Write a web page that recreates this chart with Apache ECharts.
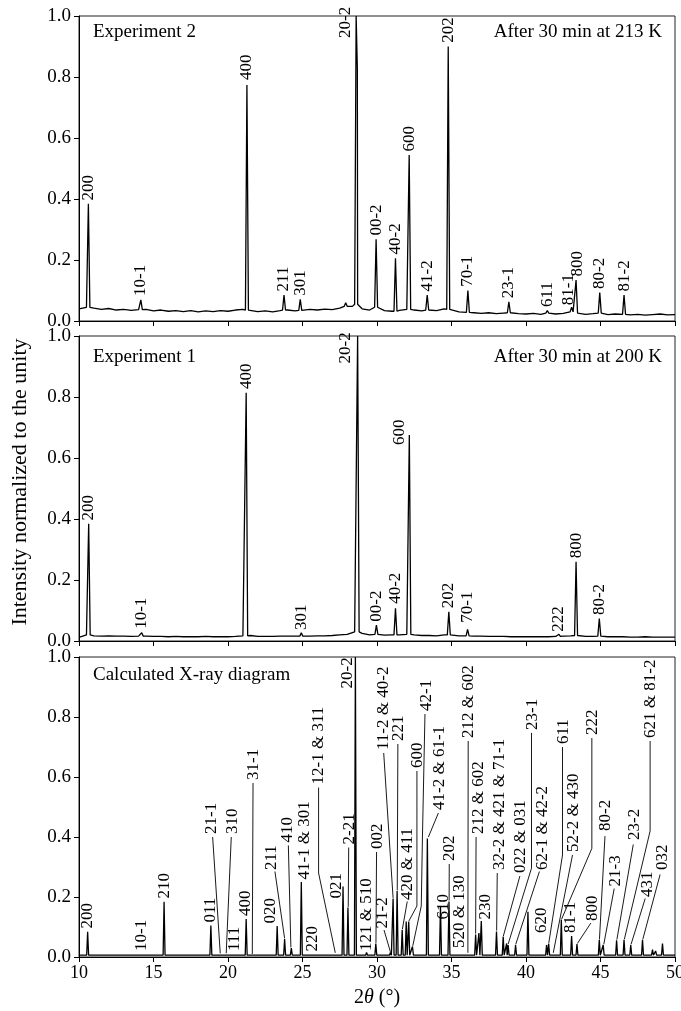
<!DOCTYPE html>
<html><head><meta charset="utf-8">
<script src="https://cdn.jsdelivr.net/npm/echarts@6/dist/echarts.min.js"></script>
<style>html,body{margin:0;padding:0;background:#fff}#c{width:681px;height:1011px}</style>
</head><body><div id="c"></div>
<script>
// ---------- DATA ----------
const xTicks = [10, 15, 20, 25, 30, 35, 40, 45, 50];
const yTicks = [0.0, 0.2, 0.4, 0.6, 0.8, 1.0];

// baseline samples (2θ) for the two experimental patterns
const baseX = [10,10.5,11,11.5,12,12.5,13,13.5,14,14.5,15,15.5,16,16.5,17,17.5,18,18.5,19,19.5,20,20.5,21,21.5,22,22.5,23,23.5,24,24.5,25,25.5,26,26.5,27,27.5,28,28.5,29,29.5,30,30.5,31,31.5,32,32.5,33,33.5,34,34.5,35,35.5,36,36.5,37,37.5,38,38.5,39,39.5,40,40.5,41,41.5,42,42.5,43,43.5,44,44.5,45,45.5,46,46.5,47,47.5,48,48.5,49,49.5,50];
const exp2Base = [.040,.045,.042,.038,.041,.036,.038,.035,.037,.038,.033,.036,.032,.034,.031,.034,.030,.033,.031,.034,.032,.036,.038,.036,.031,.033,.030,.034,.036,.033,.035,.038,.036,.039,.037,.042,.048,.055,.040,.036,.045,.034,.032,.035,.038,.036,.033,.036,.034,.040,.038,.030,.028,.027,.025,.027,.024,.026,.027,.024,.023,.025,.022,.026,.023,.025,.030,.026,.022,.024,.026,.021,.023,.022,.020,.022,.019,.021,.023,.020,.021];
const exp1Base = [.012,.020,.017,.016,.017,.016,.016,.015,.016,.016,.015,.015,.014,.015,.014,.014,.014,.015,.014,.014,.014,.015,.017,.018,.015,.015,.015,.016,.016,.016,.016,.016,.017,.017,.018,.020,.022,.030,.025,.020,.022,.019,.020,.020,.022,.020,.018,.018,.017,.020,.020,.017,.017,.016,.016,.015,.015,.015,.014,.014,.014,.014,.014,.014,.015,.016,.017,.018,.015,.015,.016,.014,.014,.014,.013,.013,.014,.013,.013,.013,.013];
const calcBaseX = [10, 50];
const calcBase = [0.006, 0.006];

// Experiment 2 (after 30 min at 213 K)
const exp2Pos = [10.63,14.15,21.27,23.76,24.85,27.9,28.25,28.6,28.68,29.94,31.24,32.16,33.37,34.78,36.1,38.85,41.43,43.06,43.36,44.95,46.58];
const exp2H   = [0.384,0.069,0.774,0.085,0.071,0.06,0.05,1.0,0.83,0.268,0.206,0.544,0.085,0.90,0.10,0.063,0.034,0.045,0.134,0.093,0.085];
const exp2LabelText = ["200","10-1","400","211","301","20-2","00-2","40-2","600","41-2","202","70-1","23-1","611","81-1","800","80-2","81-2"];
const exp2LabelX    = [10.63,14.15,21.27,23.76,24.85,27.88,29.94,31.24,32.16,33.37,34.78,36.1,38.85,41.43,42.88,43.49,44.95,46.58];
const exp2LabelY    = [0.395,0.082,0.79,0.097,0.083,0.928,0.28,0.218,0.556,0.097,0.912,0.112,0.075,0.046,0.052,0.146,0.105,0.097];

// Experiment 1 (after 30 min at 200 K)
const exp1Pos = [10.65,14.21,21.22,24.92,28.7,29.96,31.24,32.17,34.82,36.08,42.21,43.36,44.92];
const exp1H   = [0.384,0.027,0.814,0.027,1.0,0.052,0.107,0.675,0.096,0.038,0.022,0.26,0.074];
const exp1LabelText = ["200","10-1","400","301","20-2","00-2","40-2","600","202","70-1","222","800","80-2"];
const exp1LabelX    = [10.65,14.21,21.22,24.92,27.9,29.96,31.24,31.48,34.82,36.08,42.21,43.36,44.92];
const exp1LabelY    = [0.395,0.04,0.826,0.036,0.91,0.063,0.122,0.643,0.107,0.06,0.03,0.271,0.085];

// Calculated X-ray diagram
const calcPos = [10.58,12.8,14.21,15.71,18.85,19.3,19.48,19.88,20.72,21.22,21.62,23.3,23.8,24.25,24.92,25.6,27.2,27.72,28.05,28.55,28.88,29.3,29.92,30.9,31.08,31.35,31.69,31.96,32.13,32.38,33.38,34.26,34.83,35.5,36.1,36.62,36.84,37.0,38.02,38.47,38.7,38.8,39.3,40.13,41.38,41.52,41.83,42.37,43.06,43.42,44.92,45.18,46.08,46.58,47.03,47.82,48.49,48.7,49.16];
const calcH   = [0.084,0.004,0.008,0.184,0.105,0.012,0.01,0.01,0.008,0.127,0.008,0.103,0.06,0.03,0.25,0.005,0.012,0.235,0.165,1.0,0.01,0.015,0.045,0.015,0.195,0.22,0.09,0.118,0.118,0.035,0.395,0.17,0.185,0.01,0.012,0.075,0.08,0.12,0.085,0.068,0.045,0.04,0.04,0.151,0.04,0.045,0.012,0.123,0.07,0.043,0.057,0.04,0.056,0.057,0.04,0.057,0.025,0.02,0.045];
const calcLabelText = ["200","10-1","210","011","21-1","310","111","400","31-1","020","211","410","41-1 & 301","220","12-1 & 311","021","2-21","20-2","121 & 510","002","21-2","11-2 & 40-2","221","420 & 411","600","42-1","41-2 & 61-1","610","202","520 & 130","212 & 602","212 & 602","230","32-2 & 421 & 71-1","022 & 031","23-1","62-1 & 42-2","620","611","52-2 & 430","222","81-1","800","80-2","21-3","23-2","621 & 81-2","431","032"];
const calcLabelX = [10.58,14.21,15.71,18.85,18.9,20.3,20.45,21.2,21.72,22.85,22.95,24.02,25.15,25.64,26.1,27.3,28.15,28.05,29.3,30.05,30.4,30.45,31.42,32.08,32.7,33.3,34.2,34.45,34.87,35.55,36.15,36.84,37.29,38.2,39.64,40.42,41.1,41.05,42.55,43.22,44.45,43.02,44.45,45.35,46.02,47.26,48.37,48.15,49.16];
const calcLabelY = [0.095,0.02,0.195,0.115,0.41,0.41,0.02,0.137,0.59,0.112,0.29,0.382,0.258,0.018,0.575,0.195,0.375,0.895,0.02,0.36,0.095,0.69,0.72,0.19,0.63,0.82,0.49,0.125,0.32,0.03,0.73,0.41,0.125,0.29,0.28,0.757,0.29,0.08,0.71,0.35,0.74,0.08,0.12,0.42,0.235,0.39,0.73,0.2,0.29];
// leader lines (2θ, intensity) from label to its reflection; null = none
const calcLeaders = [null,null,null,null,
  [[18.97,0.40],[19.48,0.012]],
  [[20.22,0.40],[19.88,0.012]],
  null,null,
  [[21.68,0.58],[21.63,0.01]],
  null,
  [[23.15,0.285],[23.8,0.062]],
  [[24.05,0.372],[24.22,0.032]],
  null,null,
  [[26.08,0.565],[26.08,0.28],[27.2,0.014]],
  null,
  [[28.1,0.365],[28.07,0.167]],
  null,null,
  [[29.97,0.35],[29.93,0.047]],
  [[30.47,0.09],[30.9,0.017]],
  [[30.45,0.68],[31.08,0.197]],
  [[31.4,0.71],[31.36,0.222]],
  [[32.03,0.185],[31.7,0.092]],
  [[32.68,0.62],[32.68,0.17],[32.14,0.12]],
  [[33.22,0.81],[33.05,0.4],[32.97,0.17],[32.4,0.037]],
  [[34.12,0.48],[33.45,0.4]],
  null,
  [[34.85,0.31],[34.84,0.188]],
  null,
  [[36.12,0.72],[36.1,0.014]],
  [[36.65,0.40],[36.62,0.078]],
  null,
  [[38.07,0.28],[38.03,0.088]],
  [[39.59,0.27],[38.48,0.07]],
  [[40.37,0.747],[40.37,0.296],[38.8,0.043]],
  [[40.9,0.285],[39.31,0.042]],
  null,
  [[42.45,0.70],[42.45,0.34],[41.53,0.047]],
  [[43.12,0.34],[41.83,0.014]],
  [[44.42,0.73],[44.42,0.362],[42.38,0.125]],
  null,
  [[44.35,0.113],[43.45,0.045]],
  [[45.3,0.403],[44.93,0.059]],
  [[45.92,0.228],[45.22,0.042]],
  [[47.2,0.375],[46.1,0.058]],
  [[48.33,0.72],[48.33,0.42],[46.6,0.059]],
  [[48.0,0.195],[47.05,0.042]],
  [[49.0,0.275],[47.84,0.059]]
];

const panelTitles = ["Experiment 2", "Experiment 1", "Calculated X-ray diagram"];
const panelNotes = ["After 30 min at 213 K", "After 30 min at 200 K", ""];
const yAxisTitle = "Intensity normalized to the unity";

// ---------- CHART ----------
const SERIF = '"Liberation Serif", "Times New Roman", serif';

function buildLine(bx, by, pos, h, hw) {
  const nearest = x => {
    let bi = 0, bd = Infinity;
    bx.forEach((v, i) => { const d = Math.abs(v - x); if (d < bd) { bd = d; bi = i; } });
    return by[bi];
  };
  const pts = [];
  bx.forEach((v, i) => { if (!pos.some(p => Math.abs(p - v) <= hw)) pts.push([v, by[i]]); });
  pos.forEach((p, i) => { const b = nearest(p); pts.push([p - hw, b], [p, h[i]], [p + hw, b]); });
  pts.sort((a, b) => a[0] - b[0]);
  return pts;
}

function labelSeries(gi, texts, lx, ly, leaders) {
  return {
    type: 'custom', xAxisIndex: gi, yAxisIndex: gi, clip: false, silent: true, z: 5,
    data: lx.map((x, i) => [x, ly[i]]),
    renderItem: (params, api) => {
      const i = params.dataIndex;
      const p = api.coord([api.value(0), api.value(1)]);
      const children = [{
        type: 'text', x: p[0], y: p[1], rotation: Math.PI / 2,
        style: { text: texts[i], x: 0, y: 0, align: 'left', verticalAlign: 'middle',
                 fill: '#000', font: '17px ' + SERIF }
      }];
      const L = leaders ? leaders[i] : null;
      if (L) children.push({
        type: 'polyline', shape: { points: L.map(q => api.coord(q)) },
        style: { stroke: '#000', lineWidth: 0.9, fill: null }
      });
      return { type: 'group', children };
    }
  };
}

const grids = [
  { left: 79, right: 6, top: 16, height: 305 },
  { left: 79, right: 6, top: 336, height: 305 },
  { left: 79, right: 6, top: 657, height: 300 }
].map(g => Object.assign(g, { show: true, borderColor: '#222', borderWidth: 1, containLabel: false, outerBoundsMode: 'none' }));

const xAxes = [0, 1, 2].map(i => ({
  type: 'value', gridIndex: i, min: xTicks[0], max: xTicks[xTicks.length - 1], interval: xTicks[1] - xTicks[0],
  axisLine: { show: true, onZero: false, lineStyle: { color: '#000', width: 1 } },
  axisTick: { show: true, inside: false, length: 5, lineStyle: { color: '#000' } },
  axisLabel: { show: i === 2, color: '#000', fontFamily: SERIF, fontSize: 18, margin: 7, showMinLabel: true, showMaxLabel: true },
  splitLine: { show: false }
}));
const yAxes = [0, 1, 2].map(i => ({
  type: 'value', gridIndex: i, min: yTicks[0], max: yTicks[yTicks.length - 1], interval: yTicks[1] - yTicks[0],
  axisLine: { show: true, onZero: false, lineStyle: { color: '#000', width: 1 } },
  axisTick: { show: true, inside: false, length: 5, lineStyle: { color: '#000' } },
  axisLabel: { color: '#000', fontFamily: SERIF, fontSize: 19, margin: 8, formatter: v => v.toFixed(1), showMinLabel: true, showMaxLabel: true },
  splitLine: { show: false }
}));

const lineStyle = { color: '#000', width: 1.3 };
const series = [
  { type: 'line', xAxisIndex: 0, yAxisIndex: 0, data: buildLine(baseX, exp2Base, exp2Pos, exp2H, 0.1), showSymbol: false, symbol: 'none', lineStyle, silent: true },
  { type: 'line', xAxisIndex: 1, yAxisIndex: 1, data: buildLine(baseX, exp1Base, exp1Pos, exp1H, 0.1), showSymbol: false, symbol: 'none', lineStyle, silent: true },
  { type: 'line', xAxisIndex: 2, yAxisIndex: 2, data: buildLine(calcBaseX, calcBase, calcPos, calcH, 0.065), showSymbol: false, symbol: 'none', lineStyle, silent: true },
  labelSeries(0, exp2LabelText, exp2LabelX, exp2LabelY, null),
  labelSeries(1, exp1LabelText, exp1LabelX, exp1LabelY, null),
  labelSeries(2, calcLabelText, calcLabelX, calcLabelY, calcLeaders)
];

const titleY = [32, 357, 675];
const graphic = [];
panelTitles.forEach((t, i) => {
  graphic.push({ type: 'text', x: 93, y: titleY[i], style: { text: t, align: 'left', verticalAlign: 'middle', fill: '#000', font: '19px ' + SERIF } });
  if (panelNotes[i]) graphic.push({ type: 'text', x: 662, y: titleY[i], style: { text: panelNotes[i], align: 'right', verticalAlign: 'middle', fill: '#000', font: '19px ' + SERIF } });
});
graphic.push({ type: 'text', x: 20, y: 482, rotation: Math.PI / 2,
  style: { text: yAxisTitle, align: 'center', verticalAlign: 'middle', fill: '#000', font: '22px ' + SERIF } });
graphic.push({ type: 'text', x: 377, y: 998,
  style: { text: '{a|2}{b|θ}{a| (°)}', align: 'center', verticalAlign: 'middle', fill: '#000',
    rich: { a: { fontFamily: SERIF, fontSize: 20, fill: '#000' }, b: { fontFamily: SERIF, fontSize: 20, fontStyle: 'italic', fill: '#000' } } } });

const chart = echarts.init(document.getElementById('c'), null, { renderer: 'canvas' });
chart.setOption({
  backgroundColor: '#fff',
  animation: false,
  grid: grids,
  xAxis: xAxes,
  yAxis: yAxes,
  series,
  graphic
});
</script>
</body></html>
